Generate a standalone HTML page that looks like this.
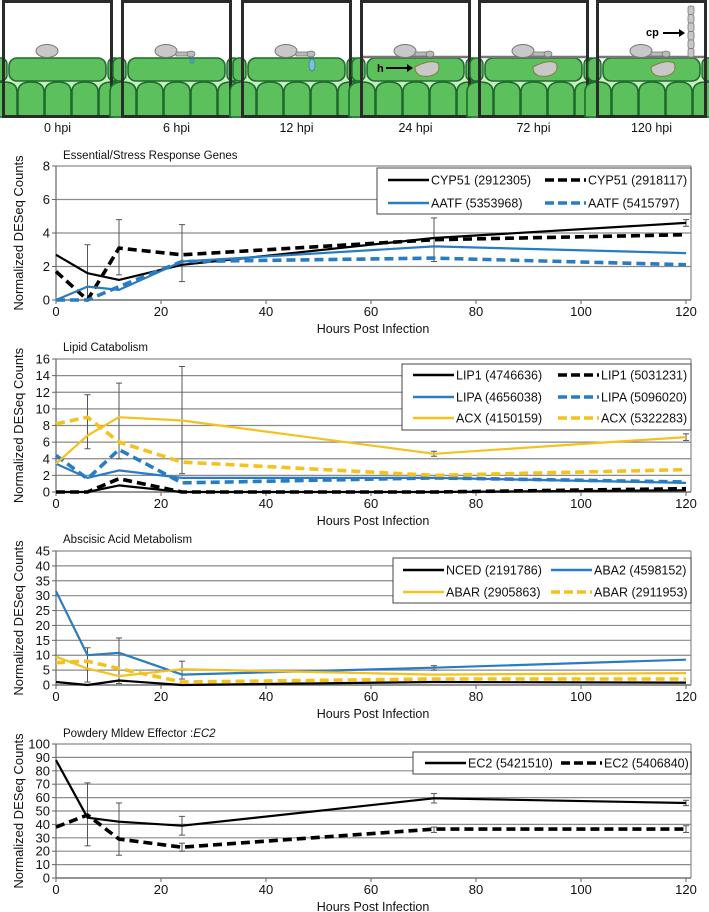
<!DOCTYPE html>
<html><head><meta charset="utf-8"><style>
html,body{margin:0;padding:0;background:#fff;}
svg{display:block;font-family:"Liberation Sans",Arial,sans-serif;}
</style></head><body>
<svg id="fig" width="709" height="912" viewBox="0 0 709 912" xmlns="http://www.w3.org/2000/svg">
<g id="panels"></g>
<g id="charts"></g>
</svg>
<script>
// ---- data ----
const hours = [0, 6, 12, 24, 72, 120];
const xTicks = [0, 20, 40, 60, 80, 100, 120];

const c1Ticks = [0, 2, 4, 6, 8];
const cyp51a = [2.7, 1.6, 1.2, 2.1, 3.7, 4.6];
const cyp51b = [1.7, 0, 3.1, 2.7, 3.6, 3.9];
const aatfA = [0, 0.8, 0.6, 2.3, 3.2, 2.8];
const aatfB = [0, 0, 0.8, 2.3, 2.5, 2.1];
const c1ErrX = [6, 12, 24, 72, 120];
const c1ErrLo = [0, 1.5, 1.1, 2.3, 4.4];
const c1ErrHi = [3.3, 4.8, 4.5, 4.9, 4.8];

const c2Ticks = [0, 2, 4, 6, 8, 10, 12, 14, 16];
const lip1a = [0, 0, 0.8, 0, 0, 0.2];
const lip1b = [0, 0, 1.6, 0, 0, 0.4];
const lipaA = [3.4, 1.7, 2.6, 1.7, 1.7, 1.1];
const lipaB = [4.4, 1.6, 5.1, 1.1, 1.7, 1.2];
const acxA = [3.4, 6.8, 9, 8.6, 4.6, 6.6];
const acxB = [8.2, 9, 6, 3.6, 2, 2.7];
const c2ErrX = [6, 12, 24, 72, 120];
const c2ErrLo = [5.2, 4, 2.2, 4.3, 6.2];
const c2ErrHi = [11.7, 13.1, 15.1, 4.9, 7];

const c3Ticks = [0, 5, 10, 15, 20, 25, 30, 35, 40, 45];
const nced = [1, 0, 1.5, 0, 1, 0.8];
const aba2 = [31.5, 10, 10.8, 3.5, 5.8, 8.5];
const abarA = [9.5, 5.5, 3, 5.3, 3.5, 4];
const abarB = [7.5, 8, 5.5, 1, 2, 2];
const c3ErrX = [6, 12, 24, 72];
const c3ErrLo = [1, 0.5, 2, 5];
const c3ErrHi = [12.5, 15.8, 8, 6.5];

const c4Ticks = [0, 10, 20, 30, 40, 50, 60, 70, 80, 90, 100];
const ec2a = [88, 45, 42, 39, 59.5, 56];
const ec2b = [38, 47, 29, 23, 36.5, 36.5];
const c4ErrX = [6, 12, 24, 72, 120, 24, 72, 120];
const c4ErrLo = [24, 17, 32, 56, 54, 20, 34, 34];
const c4ErrHi = [71, 56, 46, 63, 58, 26, 38, 39];

const stageLabels = ["0 hpi", "6 hpi", "12 hpi", "24 hpi", "72 hpi", "120 hpi"];

// ---- helpers ----
const NS = "http://www.w3.org/2000/svg";
function mk(tag, attrs, parent) {
  const e = document.createElementNS(NS, tag);
  for (const k in attrs) e.setAttribute(k, attrs[k]);
  if (parent) parent.appendChild(e);
  return e;
}
const BLUE = "#2a7cc2", YEL = "#f4c21f", BLK = "#000";
const X0 = 56, X1 = 686, RIGHT = 691;

function xScale(h) { return X0 + (h / 120) * (X1 - X0); }

function drawChart(root, cfg) {
  const g = mk("g", {}, root);
  
  
  const ymax = cfg.ticks[cfg.ticks.length - 1];
  const ys = v => cfg.y0 - (v / ymax) * (cfg.y0 - cfg.yTop);
  const t = mk("text", {x: 63, y: cfg.titleY, "font-size": 11.5, fill: "#111"}, g);
  
  
  t.innerHTML = cfg.title;
  cfg.ticks.forEach(v => {
    const y = ys(v);
    const l = mk("line", {x1: X0, x2: RIGHT, y1: y, y2: y, stroke: "#8a8a8a", "stroke-width": 1.2}, g);
    
    
    mk("line", {x1: X0 - 4, x2: X0, y1: y, y2: y, stroke: "#666"}, g);
    const tl = mk("text", {x: X0 - 6, y: y + 4.5, "font-size": 13, "text-anchor": "end", fill: "#111"}, g);
    
    
    tl.textContent = v;
  });
  mk("line", {x1: RIGHT, x2: RIGHT, y1: cfg.yTop, y2: cfg.y0, stroke: "#8a8a8a", "stroke-width": 1.2}, g);
  mk("line", {x1: X0, x2: X0, y1: cfg.yTop, y2: cfg.y0, stroke: "#666", "stroke-width": 1.2}, g);
  mk("line", {x1: X0, x2: RIGHT, y1: cfg.y0, y2: cfg.y0, stroke: "#666", "stroke-width": 1.2}, g);
  xTicks.forEach(h => {
    const x = xScale(h);
    mk("line", {x1: x, x2: x, y1: cfg.y0, y2: cfg.y0 + 4, stroke: "#666"}, g);
    const tl = mk("text", {x: x, y: cfg.y0 + 16, "font-size": 13, "text-anchor": "middle", fill: "#111"}, g);
    
    
    tl.textContent = h;
  });
  const xt = mk("text", {x: 373, y: cfg.y0 + 33, "font-size": 12.5, "text-anchor": "middle", fill: "#111"}, g);
  
  
  xt.textContent = "Hours Post Infection";
  const yc = (cfg.yTop + cfg.y0) / 2;
  const yt = mk("text", {x: 0, y: 0, "font-size": 13, "text-anchor": "middle", fill: "#111", transform: `translate(23,${yc}) rotate(-90)`}, g);
  
  
  yt.textContent = "Normalized DESeq Counts";
  cfg.errX.forEach((h, i) => {
    const x = xScale(h), a = ys(cfg.errLo[i]), b = ys(cfg.errHi[i]);
    const eg = mk("g", {stroke: "#555", "stroke-width": 1}, g);
    
    
    mk("line", {x1: x, x2: x, y1: a, y2: b}, eg);
    mk("line", {x1: x - 3, x2: x + 3, y1: a, y2: a}, eg);
    mk("line", {x1: x - 3, x2: x + 3, y1: b, y2: b}, eg);
  });
  cfg.series.forEach(s => {
    const pts = s.data.map((v, i) => xScale(hours[i]).toFixed(1) + "," + ys(v).toFixed(1)).join(" ");
    const p = mk("polyline", {points: pts, fill: "none", stroke: s.color, "stroke-width": s.dash ? 3.6 : 2.2, "stroke-dasharray": s.dash ? "9,5" : "none", "stroke-linejoin": "round"}, g);
    
    
  });
  const L = cfg.legend;
  const lg = mk("g", {}, g);
  
  
  mk("rect", {x: L.x, y: L.y, width: RIGHT - L.x, height: L.h, fill: "#fff", stroke: "#444", "stroke-width": 1}, lg);
  cfg.series.forEach((s, i) => {
    const col = i % 2, row = Math.floor(i / 2);
    const lx = L.cols[col], ly = L.rows[row];
    const eg = mk("g", {}, lg);
    
    
    mk("line", {x1: lx, x2: lx + 41, y1: ly, y2: ly, stroke: s.color, "stroke-width": s.dash ? 3.6 : 2.4, "stroke-dasharray": s.dash ? "9,4" : "none"}, eg);
    const tt = mk("text", {x: lx + 43, y: ly + 4.5, "font-size": 12.5, fill: "#111"}, eg);
    tt.textContent = s.label;
  });
}

const charts = document.getElementById("charts");
drawChart(charts, {name: "essential-stress-chart", title: "Essential/Stress Response Genes", titleY: 159, yTop: 166, y0: 300, ticks: c1Ticks,
  errX: c1ErrX, errLo: c1ErrLo, errHi: c1ErrHi,
  legend: {x: 377, y: 168, h: 46, cols: [388, 545], rows: [180, 203]},
  series: [
    {id: "line-cyp51-2912305", label: "CYP51 (2912305)", data: cyp51a, color: BLK, dash: false},
    {id: "line-cyp51-2918117", label: "CYP51 (2918117)", data: cyp51b, color: BLK, dash: true},
    {id: "line-aatf-5353968", label: "AATF (5353968)", data: aatfA, color: BLUE, dash: false},
    {id: "line-aatf-5415797", label: "AATF (5415797)", data: aatfB, color: BLUE, dash: true}]});
drawChart(charts, {name: "lipid-catabolism-chart", title: "Lipid Catabolism", titleY: 351, yTop: 359, y0: 492, ticks: c2Ticks,
  errX: c2ErrX, errLo: c2ErrLo, errHi: c2ErrHi,
  legend: {x: 402, y: 364, h: 66, cols: [413, 558], rows: [375, 397, 418]},
  series: [
    {id: "line-lip1-4746636", label: "LIP1 (4746636)", data: lip1a, color: BLK, dash: false},
    {id: "line-lip1-5031231", label: "LIP1 (5031231)", data: lip1b, color: BLK, dash: true},
    {id: "line-lipa-4656038", label: "LIPA (4656038)", data: lipaA, color: BLUE, dash: false},
    {id: "line-lipa-5096020", label: "LIPA (5096020)", data: lipaB, color: BLUE, dash: true},
    {id: "line-acx-4150159", label: "ACX (4150159)", data: acxA, color: YEL, dash: false},
    {id: "line-acx-5322283", label: "ACX (5322283)", data: acxB, color: YEL, dash: true}]});
drawChart(charts, {name: "abscisic-acid-chart", title: "Abscisic Acid Metabolism", titleY: 543, yTop: 551, y0: 685, ticks: c3Ticks,
  errX: c3ErrX, errLo: c3ErrLo, errHi: c3ErrHi,
  legend: {x: 393, y: 558, h: 45, cols: [403, 551], rows: [570, 592]},
  series: [
    {id: "line-nced-2191786", label: "NCED (2191786)", data: nced, color: BLK, dash: false},
    {id: "line-aba2-4598152", label: "ABA2 (4598152)", data: aba2, color: BLUE, dash: false},
    {id: "line-abar-2905863", label: "ABAR (2905863)", data: abarA, color: YEL, dash: false},
    {id: "line-abar-2911953", label: "ABAR (2911953)", data: abarB, color: YEL, dash: true}]});
drawChart(charts, {name: "ec2-effector-chart", title: "Powdery Mldew Effector :<tspan font-style='italic'>EC2</tspan>", titleY: 737, yTop: 744, y0: 878, ticks: c4Ticks,
  errX: c4ErrX, errLo: c4ErrLo, errHi: c4ErrHi,
  legend: {x: 413, y: 752, h: 22, cols: [425, 561], rows: [763]},
  series: [
    {id: "line-ec2-5421510", label: "EC2 (5421510)", data: ec2a, color: BLK, dash: false},
    {id: "line-ec2-5406840", label: "EC2 (5406840)", data: ec2b, color: BLK, dash: true}]});

// ---- top infection panels ----
const panels = document.getElementById("panels");
const panelX = [2, 121, 241, 360, 478, 596];
stageLabels.forEach((lab, i) => {
  const x = panelX[i], w = 111, h = 116;
  const g = mk("g", {}, panels);
  
  
  mk("rect", {x: x, y: 1, width: w, height: h, fill: "#fff"}, g);
  mk("rect", {x: x, y: 76, width: w, height: 41, fill: "#c9efc0"}, g);
  for (let k = 0; k < 5; k++) {
    const cx = x + 2 + k * 27;
    mk("path", {d: `M${cx - 13},117 L${cx - 13},92 Q${cx - 13},82 ${cx},82 Q${cx + 13},82 ${cx + 13},92 L${cx + 13},117 Z`, fill: "#5cc05c", stroke: "#1e6b2e", "stroke-width": 1.6}, g);
  }
  mk("rect", {x: x + 7, y: 58, width: w - 14, height: 23, rx: 8, fill: "#5cc05c", stroke: "#1e6b2e", "stroke-width": 1.6}, g);
  mk("rect", {x: x - 8, y: 58, width: 13, height: 23, rx: 6, fill: "#5cc05c", stroke: "#1e6b2e", "stroke-width": 1.4}, g);
  mk("rect", {x: x + w - 5, y: 58, width: 13, height: 23, rx: 6, fill: "#5cc05c", stroke: "#1e6b2e", "stroke-width": 1.4}, g);
  if (i >= 3) mk("path", {d: `M${x + 2},57 L${x + w - 2},57`, stroke: "#777", "stroke-width": 2.5}, g);
  mk("ellipse", {cx: x + 45, cy: 51, rx: 11, ry: 6.5, fill: "#c8c8c8", stroke: "#777"}, g);
  if (i >= 1) {
    mk("rect", {x: x + 55, y: 52, width: 12, height: 4, fill: "#bbb", stroke: "#777", "stroke-width": 0.8}, g);
    mk("ellipse", {cx: x + 70, cy: 54, rx: 4, ry: 3, fill: "#bbb", stroke: "#777", "stroke-width": 0.8}, g);
  }
  if (i === 1) mk("circle", {cx: x + 71, cy: 61, r: 3, fill: "#3a8fb8", opacity: 0.6}, g);
  if (i === 2) mk("ellipse", {cx: x + 71, cy: 65, rx: 3, ry: 6, fill: "#7fc0d8", stroke: "#3a8fb8"}, g);
  if (i >= 3) mk("path", {d: `M${x + 55},67 Q${x + 70},59 ${x + 78},63 Q${x + 82},73 ${x + 70},76 Q${x + 55},78 ${x + 55},67 Z`, fill: "#c8c8c8", stroke: "#8a7a40", "stroke-width": 1}, g);
  if (i === 5) {
    for (let k = 0; k < 6; k++) mk("rect", {x: x + 92, y: 6 + k * 8.5, width: 6, height: 8.5, rx: 2, fill: "#c8c8c8", stroke: "#777", "stroke-width": 0.8}, g);
  }
  mk("rect", {x: x + 1.5, y: 1.5, width: w - 3, height: h - 1, fill: "none", stroke: "#2b2b2b", "stroke-width": 3}, g);
  const tl = mk("text", {x: x + w / 2, y: 132, "font-size": 12.5, "text-anchor": "middle", fill: "#111"}, g);
  
  
  tl.textContent = lab;
});
const h1 = mk("text", {x: 377, y: 72, "font-size": 11, "font-weight": "bold", fill: "#000"}, panels);


h1.textContent = "h";
mk("line", {x1: 386, x2: 407, y1: 68, y2: 68, stroke: "#000", "stroke-width": 2}, panels);
mk("path", {d: "M407,64 L413,68 L407,72 Z", fill: "#000"}, panels);
const cp = mk("text", {x: 646, y: 36, "font-size": 11, "font-weight": "bold", fill: "#000"}, panels);


cp.textContent = "cp";
mk("line", {x1: 663, x2: 679, y1: 33, y2: 33, stroke: "#000", "stroke-width": 2}, panels);
mk("path", {d: "M679,29 L685,33 L679,37 Z", fill: "#000"}, panels);
</script>
</body></html>
